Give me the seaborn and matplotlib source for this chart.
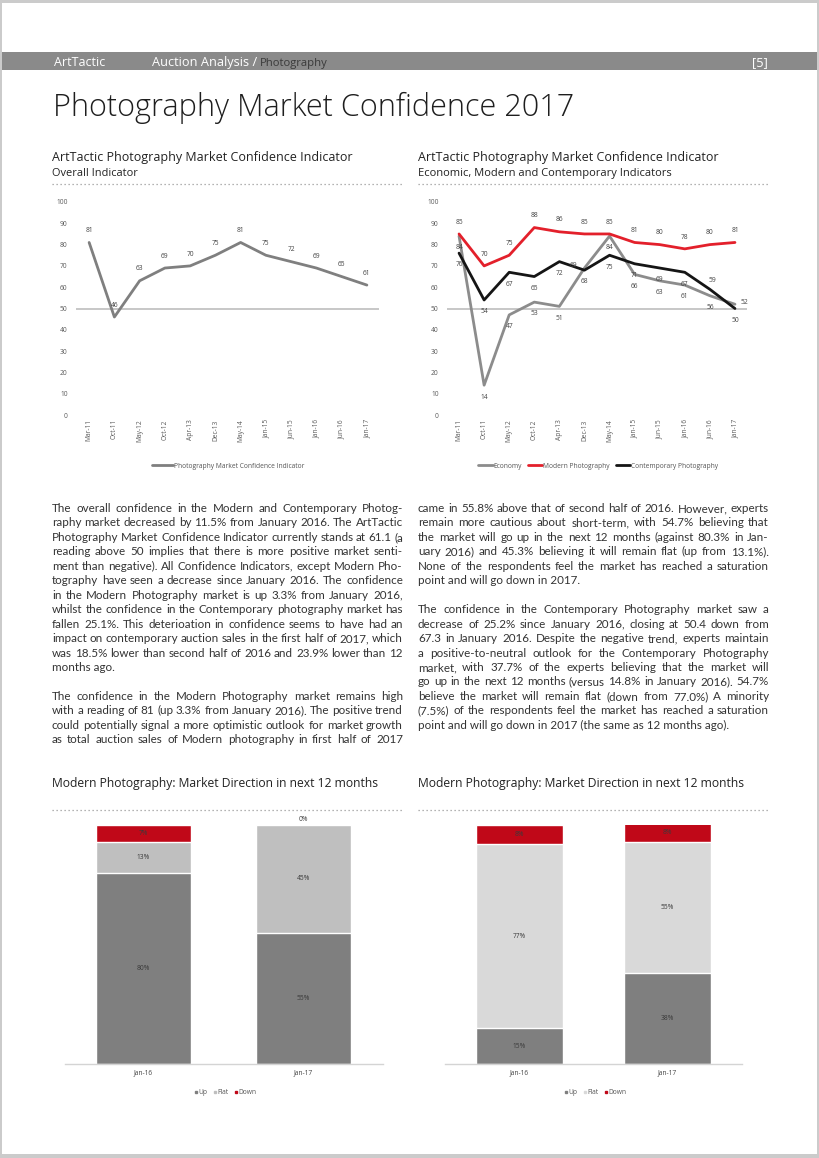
import matplotlib
matplotlib.use("Agg")
import matplotlib.pyplot as plt
from matplotlib.lines import Line2D
from matplotlib.patches import Rectangle
import numpy as np
import pandas as pd
import seaborn as sns

# data
dates = ['Mar-11', 'Oct-11', 'May-12', 'Oct-12', 'Apr-13', 'Dec-13', 'May-14',
         'Jan-15', 'Jun-15', 'Jan-16', 'Jun-16', 'Jan-17']
overall = [81, 46, 63, 69, 70, 75, 81, 75, 72, 69, 65, 61]
economy = [84, 14, 47, 53, 51, 69, 84, 66, 63, 61, 56, 52]
modern = [85, 70, 75, 88, 86, 85, 85, 81, 80, 78, 80, 81]
contemporary = [76, 54, 67, 65, 72, 68, 75, 71, 69, 67, 59, 50]

periods = ['Jan-16', 'Jan-17']
modern_up = [80, 55]
modern_flat = [13, 45]
modern_down = [7, 0]
contemp_up = [15, 38]
contemp_flat = [77, 55]
contemp_down = [8, 8]

GREY = '#7f7f7f'
RED = '#c00818'
FONT = ['Open Sans', 'DejaVu Sans']
BODY_FONT = ['Lato', 'DejaVu Sans']

sns.set_style('white')
plt.rcParams['font.family'] = FONT

W, H = 820, 1158
fig = plt.figure(figsize=(W / 100, H / 100), dpi=100)
fig.patch.set_facecolor('#cbcbcb')
renderer = fig.canvas.get_renderer()


def fx(x):
    return x / W


def fy(y):
    return 1 - y / H


def axes_px(x0, y0, x1, y1):
    return fig.add_axes([fx(x0), fy(y1), (x1 - x0) / W, (y1 - y0) / H])


def fit_text(x, y, s, width, color='#222222', weight='normal'):
    # size the text so it spans the same width as on the page
    t = fig.text(fx(x), fy(y), s, fontsize=10, color=color, fontweight=weight,
                 va='baseline', ha='left')
    w = t.get_window_extent(renderer).width
    t.set_fontsize(10 * width / w)
    return t


# page and header band
fig.add_artist(Rectangle((fx(2), fy(1154)), 815 / W, 1151 / H, transform=fig.transFigure,
                         facecolor='white', edgecolor='none', zorder=-5))
fig.add_artist(Rectangle((fx(2), fy(70)), 815 / W, 18 / H, transform=fig.transFigure,
                         facecolor='#8a8a8a', edgecolor='none', zorder=-4))
fit_text(54, 66, 'ArtTactic', 51, color='white')
fit_text(152, 66, 'Auction Analysis /', 105, color='white')
fit_text(260, 66, 'Photography', 68, color='#3a3a3a')
fit_text(752, 66, '[5]', 16, color='white')

fit_text(53, 116, 'Photography Market Confidence 2017', 520, color='#1e1e1e', weight='light')

fit_text(52, 161, 'ArtTactic Photography Market Confidence Indicator', 297)
fit_text(52, 176, 'Overall Indicator', 85)
fit_text(418, 161, 'ArtTactic Photography Market Confidence Indicator', 297)
fit_text(418, 176, 'Economic, Modern and Contemporary Indicators', 253)
fit_text(52, 787, 'Modern Photography: Market Direction in next 12 months', 328)
fit_text(418, 787, 'Modern Photography: Market Direction in next 12 months', 328)

for (x0, x1, y) in [(52, 402, 184), (418, 768, 184), (52, 402, 810), (418, 768, 810)]:
    fig.add_artist(Line2D([fx(x0), fx(x1)], [fy(y), fy(y)], transform=fig.transFigure,
                          color='#9a9a9a', lw=0.9, linestyle=(0, (1, 2.2))))

# body text, justified by hand
left_col = [
    ['The overall confidence in the Modern and Contemporary Photog-',
     'raphy market decreased by 11.5% from January 2016. The ArtTactic',
     'Photography Market Confidence Indicator currently stands at 61.1 (a',
     'reading above 50 implies that there is more positive market senti-',
     'ment than negative). All Confidence Indicators, except Modern Pho-',
     'tography have seen a decrease since January 2016. The confidence',
     'in the Modern Photography market is up 3.3% from January 2016,',
     'whilst the confidence in the Contemporary photography market has',
     'fallen 25.1%. This deterioation in confidence seems to have had an',
     'impact on contemporary auction sales in the first half of 2017, which',
     'was 18.5% lower than second half of 2016 and 23.9% lower than 12',
     'months ago.'],
    ['The confidence in the Modern Photography market remains high',
     'with a reading of 81 (up 3.3% from January 2016). The positive trend',
     'could potentially signal a more optimistic outlook for market growth',
     'as total auction sales of Modern photography in first half of 2017',
     '']]
right_col = [
    ['came in 55.8% above that of second half of 2016. However, experts',
     'remain more cautious about short-term, with 54.7% believing that',
     'the market will go up in the next 12 months (against 80.3% in Jan-',
     'uary 2016) and 45.3% believing it will remain flat (up from 13.1%).',
     'None of the respondents feel the market has reached a saturation',
     'point and will go down in 2017.'],
    ['The confidence in the Contemporary Photography market saw a',
     'decrease of 25.2% since January 2016, closing at 50.4 down from',
     '67.3 in January 2016. Despite the negative trend, experts maintain',
     'a positive-to-neutral outlook for the Contemporary Photography',
     'market, with 37.7% of the experts believing that the market will',
     'go up in the next 12 months (versus 14.8% in January 2016). 54.7%',
     'believe the market will remain flat (down from 77.0%) A minority',
     '(7.5%) of the respondents feel the market has reached a saturation',
     'point and will go down in 2017 (the same as 12 months ago).']]

COL_W = 351
probe = fig.text(0, 0, '', fontsize=10, family=BODY_FONT)
ratios = []
for col in (left_col, right_col):
    for para in col:
        for line in para[:-1]:
            if line:
                probe.set_text(line)
                ratios.append(COL_W / probe.get_window_extent(renderer).width)
probe.remove()
BODY = 10 * min(ratios)


def paragraphs(x0, y0, col, lh=14.45, color='#333333'):
    y = y0
    for para in col:
        for k, line in enumerate(para):
            if line and k < len(para) - 1:
                words = line.split(' ')
                ts = [fig.text(fx(x0), fy(y), w_, fontsize=BODY, color=color,
                               va='baseline', ha='left', family=BODY_FONT) for w_ in words]
                ws = [t.get_window_extent(renderer).width for t in ts]
                gap = (COL_W - sum(ws)) / (len(words) - 1)
                x = x0
                for t, w_ in zip(ts, ws):
                    t.set_x(fx(x))
                    x += w_ + gap
            elif line:
                fig.text(fx(x0), fy(y), line, fontsize=BODY, color=color,
                         va='baseline', ha='left', family=BODY_FONT)
            y += lh
        y += lh


paragraphs(52, 512, left_col)
paragraphs(418, 512, right_col)


# line charts
def style_line_axes(ax, xlim):
    ax.set_xlim(*xlim)
    ax.set_ylim(0, 100)
    ax.set_yticks(range(0, 101, 10))
    ax.set_xlabel('')
    ax.set_ylabel('')
    ax.axhline(50, color='#bdbdbd', lw=1.2, zorder=0)
    for s in ax.spines.values():
        s.set_visible(False)
    ax.tick_params(axis='both', length=0, labelsize=4.8, labelcolor='#5a5a5a')
    ax.tick_params(axis='y', pad=6)
    ax.tick_params(axis='x', pad=3, rotation=90)
    ax.patch.set_alpha(0)


def point_labels(ax, vals, dy, va, moved=None):
    moved = moved or {}
    for i, v in enumerate(vals):
        off, ha, v_a = moved.get(i, ((0, dy), 'center', va))
        ax.annotate(str(v), (i, v), xytext=off, textcoords='offset points',
                    ha=ha, va=v_a, fontsize=4.8, color='#444444')


ax1 = axes_px(76, 202, 379, 415)
df_overall = pd.DataFrame({'date': dates, 'value': overall})
sns.lineplot(data=df_overall, x='date', y='value', color=GREY, linewidth=2,
             sort=False, ax=ax1)
style_line_axes(ax1, (-0.52, 11.48))
point_labels(ax1, overall, 6, 'bottom')
fig.legend(handles=[Line2D([], [], color=GREY, lw=2)],
           labels=['Photography Market Confidence Indicator'],
           loc='center', bbox_to_anchor=(fx(228), fy(466)), frameon=False,
           fontsize=4.8, handlelength=3.2, handletextpad=0.1, labelcolor='#555555')

ax2 = axes_px(447, 202, 747, 415)
df_ind = pd.DataFrame({
    'date': dates * 3,
    'value': economy + modern + contemporary,
    'series': ['Economy'] * 12 + ['Modern Photography'] * 12 + ['Contemporary Photography'] * 12,
})
pal = {'Economy': '#8c8c8c', 'Modern Photography': '#e3202b',
       'Contemporary Photography': '#151515'}
sns.lineplot(data=df_ind, x='date', y='value', hue='series', palette=pal,
             linewidth=2, sort=False, ax=ax2, legend=False)
style_line_axes(ax2, (-0.48, 11.48))
point_labels(ax2, modern, 6, 'bottom')
point_labels(ax2, economy, -6, 'top',
             moved={5: ((-5, 2), 'right', 'center'), 11: ((4, 1), 'left', 'center')})
point_labels(ax2, contemporary, -6, 'top',
             moved={10: ((2, 4), 'center', 'bottom')})
fig.legend(handles=[Line2D([], [], color=c, lw=2) for c in pal.values()],
           labels=list(pal.keys()), loc='center', bbox_to_anchor=(fx(598), fy(466)),
           frameon=False, fontsize=4.8, ncol=3, handlelength=2.2, handletextpad=0.1,
           columnspacing=0.9, labelcolor='#555555')


# stacked bar charts
def stacked(ax, up, flat, down, flat_color, width, xlim):
    up, flat, down = np.array(up), np.array(flat), np.array(down)
    df = pd.DataFrame({'period': periods, 'up': up, 'upflat': up + flat,
                       'total': up + flat + down})
    for col, c in [('total', RED), ('upflat', flat_color), ('up', GREY)]:
        sns.barplot(data=df, x='period', y=col, color=c, saturation=1, width=width,
                    edgecolor='white', linewidth=1, ax=ax)
    for i in range(len(periods)):
        for lo, v in [(0, up[i]), (up[i], flat[i]), (up[i] + flat[i], down[i])]:
            ypos = lo + v / 2 if v > 0 else lo + 2.5
            ax.text(i, ypos, f'{v}%', ha='center', va='center', fontsize=4.8,
                    color='#3a3a3a', clip_on=False)
    ax.set_xlim(*xlim)
    ax.set_ylim(0, 100)
    ax.set_xlabel('')
    ax.set_ylabel('')
    ax.set_yticks([])
    for k, s in ax.spines.items():
        s.set_visible(k == 'bottom')
    ax.spines['bottom'].set_color('#d4d4d4')
    ax.spines['bottom'].set_linewidth(1)
    ax.tick_params(axis='x', length=0, pad=4, labelsize=4.8, labelcolor='#444444')
    ax.patch.set_alpha(0)


def bar_legend(cx, flat_color):
    hs = [Line2D([], [], marker='s', ls='', color=c, markersize=2)
          for c in (GREY, flat_color, RED)]
    fig.legend(handles=hs, labels=['Up', 'Flat', 'Down'], loc='center',
               bbox_to_anchor=(fx(cx), fy(1093)), frameon=False, ncol=3,
               fontsize=4.8, handlelength=0.6, handletextpad=0.1, columnspacing=0.8,
               labelcolor='#555555')


ax3 = axes_px(65, 825, 383, 1064)
stacked(ax3, modern_up, modern_flat, modern_down, '#bfbfbf', 0.594, (-0.49, 1.497))
bar_legend(225, '#bfbfbf')

ax4 = axes_px(445, 825, 742, 1064)
stacked(ax4, contemp_up, contemp_flat, contemp_down, '#d9d9d9', 0.588, (-0.503, 1.503))
bar_legend(595, '#d9d9d9')

fig.savefig('out.png', dpi=100, facecolor=fig.get_facecolor())
